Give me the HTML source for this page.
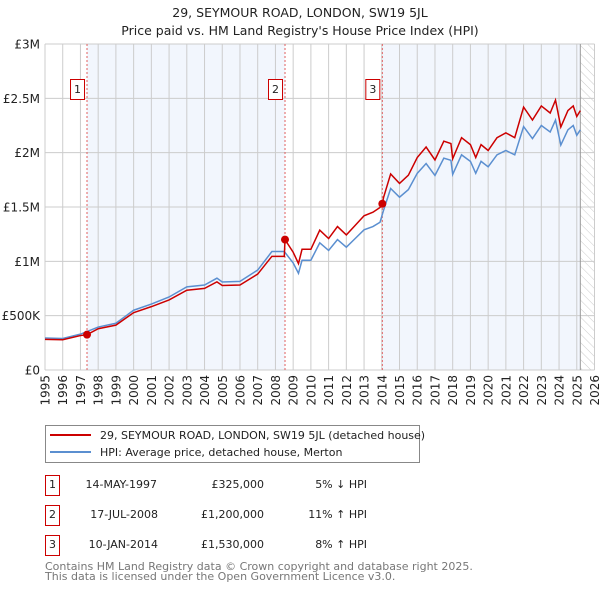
<!DOCTYPE html>
<html><head><meta charset="utf-8"><style>
body{margin:0;background:#fff;}
svg text{font-family:"DejaVu Sans","Liberation Sans",sans-serif;}
</style></head><body>
<svg width="600" height="590" viewBox="0 0 600 590" xmlns="http://www.w3.org/2000/svg">
<text x="300" y="17" font-size="12.5" text-anchor="middle" fill="#222">29, SEYMOUR ROAD, LONDON, SW19 5JL</text>
<text x="300" y="35" font-size="12.5" text-anchor="middle" fill="#222">Price paid vs. HM Land Registry's House Price Index (HPI)</text>
<g id="plot"></g>
<g>
<rect x="45.5" y="425.5" width="374" height="37" fill="#fff" stroke="#888"/>
<line x1="50" y1="435" x2="91" y2="435" stroke="#cc0000" stroke-width="2"/>
<text x="100" y="439" font-size="11" fill="#222">29, SEYMOUR ROAD, LONDON, SW19 5JL (detached house)</text>
<line x1="50" y1="452" x2="91" y2="452" stroke="#5b8fd0" stroke-width="2"/>
<text x="100" y="456" font-size="11" fill="#222">HPI: Average price, detached house, Merton</text>
</g>
<g font-size="11" fill="#222">
<rect x="45.5" y="475.5" width="14" height="20" fill="#fff" stroke="#cc0000"/><text x="52.5" y="488" text-anchor="middle">1</text>
<text x="157" y="488" text-anchor="end">14-MAY-1997</text><text x="264" y="488" text-anchor="end">£325,000</text><text x="367" y="488" text-anchor="end">5% ↓ HPI</text>
<rect x="45.5" y="505.5" width="14" height="20" fill="#fff" stroke="#cc0000"/><text x="52.5" y="518" text-anchor="middle">2</text>
<text x="158" y="518" text-anchor="end">17-JUL-2008</text><text x="264" y="518" text-anchor="end">£1,200,000</text><text x="367" y="518" text-anchor="end">11% ↑ HPI</text>
<rect x="45.5" y="535.5" width="14" height="20" fill="#fff" stroke="#cc0000"/><text x="52.5" y="548" text-anchor="middle">3</text>
<text x="158" y="548" text-anchor="end">10-JAN-2014</text><text x="264" y="548" text-anchor="end">£1,530,000</text><text x="367" y="548" text-anchor="end">8% ↑ HPI</text>
</g>
<text x="45" y="570" font-size="11" fill="#777">Contains HM Land Registry data © Crown copyright and database right 2025.</text>
<text x="45" y="580" font-size="11" fill="#777">This data is licensed under the Open Government Licence v3.0.</text>
</svg>
<script>
const hpiYears=[1995,1996,1997,1998,1999,2000,2001,2002,2003,2004,2004.7,2005,2006,2007,2007.8,2008.5,2009.0,2009.3,2009.5,2010,2010.5,2011,2011.5,2012,2012.5,2013,2013.5,2013.9,2014.1,2014.5,2015,2015.5,2016,2016.5,2017,2017.5,2017.9,2018,2018.5,2019,2019.3,2019.6,2020,2020.5,2021,2021.5,2022,2022.5,2023,2023.5,2023.8,2024.1,2024.5,2024.8,2025,2025.2];
const hpiValues=[294,290,330,395,430,550,607,672,765,782,845,810,815,920,1090,1090,985,890,1010,1010,1170,1100,1200,1130,1210,1290,1320,1360,1470,1670,1590,1660,1810,1900,1790,1950,1930,1800,1980,1920,1810,1920,1870,1980,2020,1980,2240,2130,2250,2190,2300,2070,2210,2250,2160,2210];
const priceYears=[1995,1996,1997,1997.37,1998,1999,2000,2001,2002,2003,2004,2004.7,2005,2006,2007,2007.8,2008.5,2008.54,2009.0,2009.3,2009.5,2010,2010.5,2011,2011.5,2012,2012.5,2013,2013.5,2013.9,2014.03,2014.1,2014.5,2015,2015.5,2016,2016.5,2017,2017.5,2017.9,2018,2018.5,2019,2019.3,2019.6,2020,2020.5,2021,2021.5,2022,2022.5,2023,2023.5,2023.8,2024.1,2024.5,2024.8,2025,2025.2];
const priceValues=[282,278,317,325,380,413,528,583,645,734,751,811,778,782,883,1046,1046,1200,1084,979,1111,1111,1287,1210,1320,1243,1331,1419,1452,1496,1530,1588,1804,1717,1793,1955,2052,1933,2106,2084,1944,2138,2074,1955,2074,2020,2138,2182,2138,2419,2300,2430,2365,2484,2236,2387,2430,2333,2387];
const saleYears=[1997.37,2008.54,2014.03];
const saleValues=[325,1200,1530];
const saleLabels=["1","2","3"];
const yTicks=[0,500,1000,1500,2000,2500,3000];
const yTickLabels=["£0","£500K","£1M","£1.5M","£2M","£2.5M","£3M"];
const xTicks=[];for(let y=1995;y<=2026;y++)xTicks.push(y);

const L=45,R=594.5,T=44,B=370;
const xs=y=>L+(y-1995)/(2026-1995)*(R-L);
const ys=v=>B-v/3000*(B-T);
const NS="http://www.w3.org/2000/svg";
const g=document.getElementById('plot');
function mk(tag,at,parent){const e=document.createElementNS(NS,tag);for(const k in at)e.setAttribute(k,at[k]);(parent||g).appendChild(e);return e;}

// shading
let s1=mk('rect',{x:xs(saleYears[0]),y:T,width:xs(saleYears[1])-xs(saleYears[0]),height:B-T,fill:'#eef3fc',opacity:0.75});


let s2=mk('rect',{x:xs(saleYears[2]),y:T,width:xs(2025.2)-xs(saleYears[2]),height:B-T,fill:'#eef3fc',opacity:0.75});


// hatch
const defs=mk('defs',{});
const pat=mk('pattern',{id:'hatch',width:6,height:6,patternUnits:'userSpaceOnUse',patternTransform:'rotate(-45)'},defs);
mk('line',{x1:0,y1:0,x2:0,y2:6,stroke:'#ccc','stroke-width':1},pat);
let hz=mk('rect',{x:xs(2025.2),y:T,width:R-xs(2025.2),height:B-T,fill:'url(#hatch)'});


// grid
xTicks.forEach(t=>{
 let l=mk('line',{x1:xs(t),y1:T,x2:xs(t),y2:B,stroke:'#ccc','stroke-width':1});
 
 
 let tx=mk('text',{x:0,y:0,'font-size':12,fill:'#222','text-anchor':'end',transform:`translate(${xs(t)+4.5},375) rotate(-90)`});
 tx.textContent=t;
 
 
});
yTicks.forEach((t,i)=>{
 let l=mk('line',{x1:L,y1:ys(t),x2:R,y2:ys(t),stroke:'#ccc','stroke-width':1});
 
 
 let tx=mk('text',{x:40,y:ys(t)+4.5,'font-size':12,fill:'#222','text-anchor':'end'});
 tx.textContent=yTickLabels[i];
 
 
});
let vl=mk('line',{x1:xs(2025.2),y1:T,x2:xs(2025.2),y2:B,stroke:'#999','stroke-width':1});


// sale markers lines
saleYears.forEach((yr,i)=>{
 let l=mk('line',{x1:xs(yr),y1:T,x2:xs(yr),y2:B,stroke:'#e06060','stroke-width':1,'stroke-dasharray':'2,2'});
 
 
 let r=mk('rect',{x:xs(yr)-16.5,y:79.5,width:14,height:20,fill:'#fff',stroke:'#cc0000'});
 
 
 let t=mk('text',{x:xs(yr)-9.5,y:93,'font-size':11,fill:'#222','text-anchor':'middle'});
 t.textContent=saleLabels[i];
 
 
});
// series
let hp=mk('polyline',{points:hpiYears.map((y,i)=>xs(y)+','+ys(hpiValues[i])).join(' '),fill:'none',stroke:'#5b8fd0','stroke-width':1.5});


let pp=mk('polyline',{points:priceYears.map((y,i)=>xs(y)+','+ys(priceValues[i])).join(' '),fill:'none',stroke:'#cc0000','stroke-width':1.5});


saleYears.forEach((yr,i)=>{
 let c=mk('circle',{cx:xs(yr),cy:ys(saleValues[i]),r:4,fill:'#cc0000'});
 
 
});
</script>
</body></html>
